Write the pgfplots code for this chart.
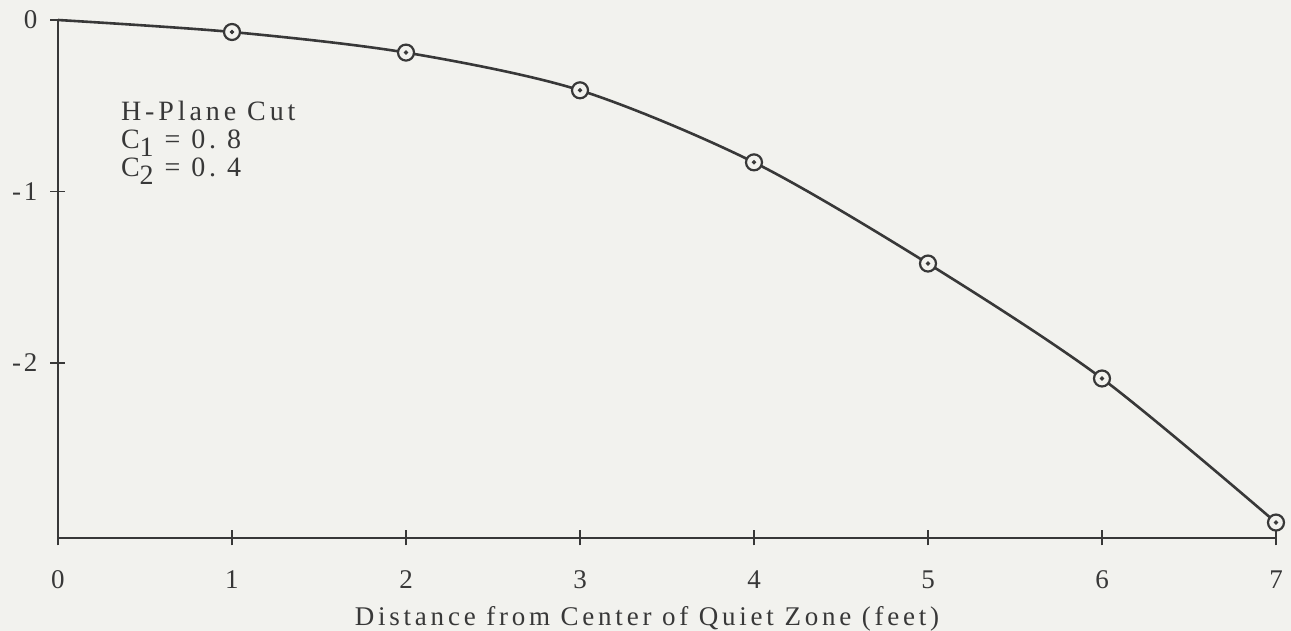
\documentclass[border=0pt]{standalone}
\usepackage{pgfplots}
\pgfplotsset{compat=1.18}
\usepackage{fontspec}
\setmainfont{Liberation Serif}
\definecolor{bg}{HTML}{F2F2EE}
\definecolor{ink}{HTML}{383838}
\begin{document}
\begin{tikzpicture}
\fill[bg] (-29pt,-46.5pt) rectangle (616.5pt,269pt);
\begin{axis}[
  at={(0,0)}, anchor=south west,
  scale only axis, width=609pt, height=259pt,
  xmin=0, xmax=7, ymin=-3.02, ymax=0,
  axis lines*=left,
  axis line style={ink, line width=1pt},
  xtick={0,1,2,3,4,5,6,7}, ytick={-2,-1,0},
  tick align=center, major tick length=7.5pt,
  tick style={ink, line width=0.8pt},
  /pgf/number format/assume math mode=true,
  ticklabel style={font=\fontsize{13.5}{15}\selectfont\addfontfeatures{LetterSpace=10}, text=ink},
  xticklabel style={yshift=-9pt},
  yticklabel style={xshift=-3pt},
  xlabel={Distance from Center of Quiet Zone (feet)},
  xlabel style={font=\fontsize{13.5}{15}\selectfont\addfontfeatures{LetterSpace=14}, text=ink, yshift=-2pt, xshift=-10pt},
  clip=false,
]
\addplot[ink, line width=1.3pt, smooth, tension=0.5, no marks] coordinates {
  (0,0) (1,-0.07) (2,-0.19) (3,-0.41) (4,-0.83) (5,-1.42) (6,-2.09) (7,-2.93)
};
\addplot[only marks, mark=*, mark size=4pt, mark options={draw=ink, fill=bg, line width=1.1pt}] coordinates {
  (1,-0.07) (2,-0.19) (3,-0.41) (4,-0.83) (5,-1.42) (6,-2.09) (7,-2.93)
};
\addplot[only marks, mark=*, mark size=0.9pt, mark options={draw=ink, fill=ink}] coordinates {
  (1,-0.07) (2,-0.19) (3,-0.41) (4,-0.83) (5,-1.42) (6,-2.09) (7,-2.93)
};
\node[anchor=north west, align=left, inner sep=0pt, text=ink,
      font=\fontsize{14}{14}\selectfont\addfontfeatures{LetterSpace=14}]
  at (axis cs:0.36,-0.47) {H-Plane Cut\\C\raisebox{-0.6ex}{1} = 0.\ 8\\C\raisebox{-0.6ex}{2} = 0.\ 4};
\end{axis}
\pgfresetboundingbox
\path[use as bounding box] (-29pt,-46.5pt) rectangle (616.5pt,269pt);
\end{tikzpicture}
\end{document}
